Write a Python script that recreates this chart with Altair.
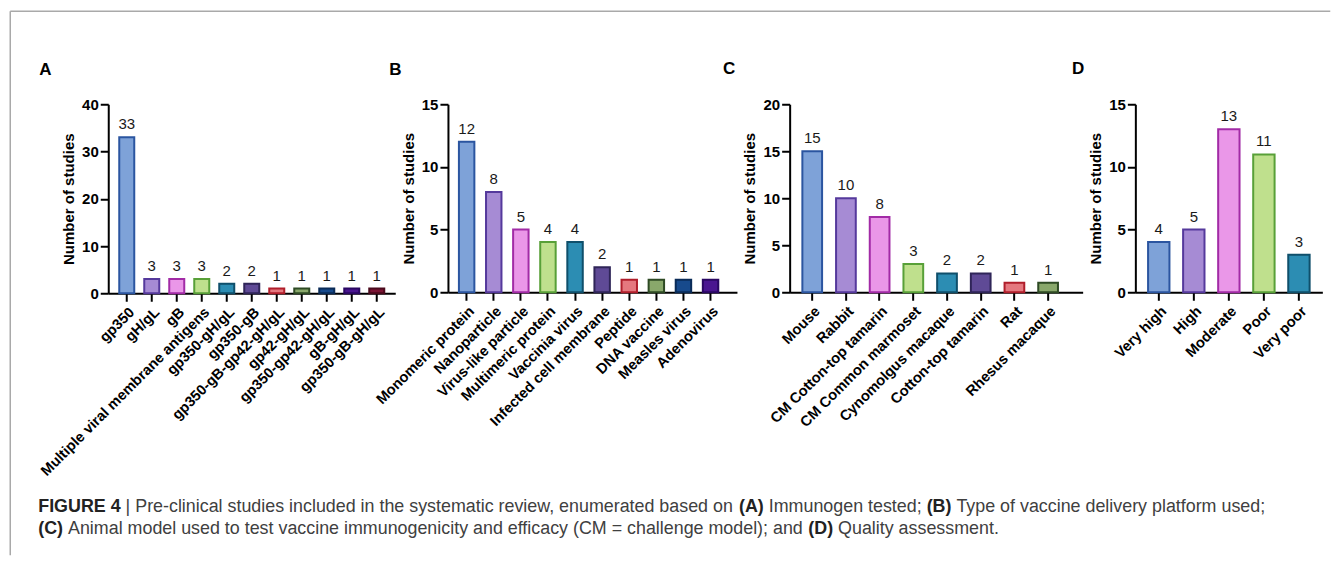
import altair as alt
import pandas as pd

FONT = "Liberation Sans"

# ---------------- data ----------------
a_cats = ["gp350", "gH/gL", "gB", "Multiple viral membrane antigens", "gp350-gH/gL",
          "gp350-gB", "gp350-gB-gp42-gH/gL", "gp42-gH/gL", "gp350-gp42-gH/gL",
          "gB-gH/gL", "gp350-gB-gH/gL"]
a_vals = [33, 3, 3, 3, 2, 2, 1, 1, 1, 1, 1]

b_cats = ["Monomeric protein", "Nanoparticle", "Virus-like particle", "Multimeric protein",
          "Vaccinia virus", "Infected cell membrane", "Peptide", "DNA vaccine",
          "Measles virus", "Adenovirus"]
b_vals = [12, 8, 5, 4, 4, 2, 1, 1, 1, 1]

c_cats = ["Mouse", "Rabbit", "CM Cotton-top tamarin", "CM Common marmoset",
          "Cynomolgus macaque", "Cotton-top tamarin", "Rat", "Rhesus macaque"]
c_vals = [15, 10, 8, 3, 2, 2, 1, 1]

d_cats = ["Very high", "High", "Moderate", "Poor", "Very poor"]
d_vals = [4, 5, 13, 11, 3]

fills = ["#7ea2d8", "#a68bd4", "#ea97e8", "#bfe08d", "#2c8db3", "#5f4a96",
         "#e5787f", "#89a86b", "#174a8c", "#4a1590", "#7b1535"]
strokes = ["#2b55a0", "#55399c", "#a22ba6", "#58a038", "#0f4f6b", "#2f2558",
           "#b01e2b", "#2e4a24", "#0a2b57", "#2a0762", "#4a0a1c"]

caption_line1 = [("FIGURE 4", True), (" | ", False),
                 ("Pre-clinical studies included in the systematic review, enumerated based on ", False),
                 ("(A)", True), (" Immunogen tested; ", False), ("(B)", True),
                 (" Type of vaccine delivery platform used;", False)]
caption_line2 = [("(C)", True),
                 (" Animal model used to test vaccine immunogenicity and efficacy (CM = challenge model); and ", False),
                 ("(D)", True), (" Quality assessment.", False)]

# Helvetica/Arial advance widths (per 1000 em) used to place caption segments
REG = {' ': 278, 'a': 556, 'b': 556, 'c': 500, 'd': 556, 'e': 556, 'f': 278, 'g': 556, 'h': 556,
       'i': 222, 'j': 222, 'k': 500, 'l': 222, 'm': 833, 'n': 556, 'o': 556, 'p': 556, 'q': 556,
       'r': 333, 's': 500, 't': 278, 'u': 556, 'v': 500, 'w': 722, 'x': 500, 'y': 500, 'z': 500,
       'P': 667, 'I': 278, 'T': 611, 'A': 667, 'C': 722, 'M': 833, 'Q': 778, 'D': 722,
       '-': 333, ',': 278, ';': 278, '(': 333, ')': 333, '=': 584, '|': 260, '.': 278}
BOLD = {' ': 278, 'F': 611, 'I': 278, 'G': 778, 'U': 722, 'R': 722, 'E': 667, '4': 556,
        '(': 333, ')': 333, 'A': 722, 'B': 722, 'C': 722, 'D': 722}


def em_width(s, bold):
    table = BOLD if bold else REG
    return sum(table.get(ch, 556) for ch in s) / 1000.0


# ---------------- layout (page pixels) ----------------
A_X0, PLOT_TOP = 108, 104
CAP_X0, CAP_X1 = 38, 1266
CAP_Y1, CAP_Y2 = 512, 534
cap_size = (CAP_X1 - CAP_X0) / sum(em_width(s, b) for s, b in caption_line1)


def txt(s, px, py, size, bold, color, align="left"):
    return alt.Chart(pd.DataFrame({"t": [s]})).mark_text(
        align=align, baseline="alphabetic", font=FONT, fontSize=size,
        fontWeight="bold" if bold else "normal", color=color
    ).encode(x=alt.value(px), y=alt.value(py), text="t:N")


def caption_layers(segments, page_y):
    layers = []
    x = CAP_X0
    for s, b in segments:
        lead = len(s) - len(s.lstrip(" "))
        xs = x + em_width(" " * lead, b) * cap_size
        layers.append(txt(s.strip(" "), xs - A_X0, page_y - PLOT_TOP, cap_size, b,
                          "#222222" if b else "#404040"))
        x += em_width(s, b) * cap_size
    return layers


def panel(cats, vals, ymax, ystep, width, height, pin, pout, align, letter, lx, ly, extra=None):
    n = len(cats)
    df = pd.DataFrame({"cat": cats, "val": vals})
    xenc = alt.X("cat:N", sort=cats,
                 scale=alt.Scale(paddingInner=pin, paddingOuter=pout, align=align),
                 axis=alt.Axis(title=None, labelAngle=-45, labelAlign="right",
                               labelBaseline="top", labelFontSize=14.6, labelPadding=3,
                               labelLimit=0, labelOverlap=False))
    yenc = alt.Y("val:Q", scale=alt.Scale(domain=[0, ymax], nice=False),
                 axis=alt.Axis(title="Number of studies",
                               values=list(range(0, ymax + 1, ystep)),
                               labelFontSize=15, labelPadding=2, titlePadding=5))
    bars = alt.Chart(df).mark_bar(strokeWidth=2).encode(
        x=xenc, y=yenc,
        fill=alt.Fill("cat:N", scale=alt.Scale(domain=cats, range=fills[:n]), legend=None),
        stroke=alt.Stroke("cat:N", scale=alt.Scale(domain=cats, range=strokes[:n]), legend=None),
    )
    labels = alt.Chart(df).mark_text(baseline="alphabetic", dy=-8, font=FONT,
                                     fontSize=15, color="#1a1a1a").encode(
        x=alt.X("cat:N", sort=cats), y=alt.Y("val:Q"), text="val:Q")
    layers = [bars, labels, txt(letter, lx, ly, 17, True, "#000000")]
    if extra:
        layers += extra
    return alt.layer(*layers).properties(width=width, height=height).resolve_scale(
        fill="independent", stroke="independent")


# decoration: frame lines and caption, placed relative to panel A
frame_df = pd.DataFrame({"a": [0]})
frame_v = alt.Chart(frame_df).mark_rule(color="#a9a9a9", strokeWidth=1.5).encode(
    x=alt.value(10 - A_X0), y=alt.value(11 - PLOT_TOP), y2=alt.value(555 - PLOT_TOP))
frame_h = alt.Chart(frame_df).mark_rule(color="#a9a9a9", strokeWidth=1.5).encode(
    x=alt.value(10 - A_X0), x2=alt.value(1330 - A_X0), y=alt.value(11 - PLOT_TOP))

extra = [frame_v, frame_h] + caption_layers(caption_line1, CAP_Y1) + caption_layers(caption_line2, CAP_Y2)

pA = panel(a_cats, a_vals, 40, 10, 287, 189, 0.4, 0.44, 0.5, "A", 39 - 108, 75 - PLOT_TOP, extra)
pB = panel(b_cats, b_vals, 15, 5, 289, 188, 0.43, 0.547, 0.37, "B", 389 - 447.7, 74.3 - PLOT_TOP)
pC = panel(c_cats, c_vals, 20, 5, 293, 188, 0.415, 0.555, 0.34, "C", 722.7 - 789.3, 74 - PLOT_TOP)
pD = panel(d_cats, d_vals, 15, 5, 187, 188, 0.39, 0.363, 0.5, "D", 1071.7 - 1135, 73.3 - PLOT_TOP)

chart = alt.hconcat(pA, pB, pC, pD, spacing=52.7, bounds="flush").resolve_scale(
    fill="independent", stroke="independent"
).properties(
    padding={"left": 1.25, "top": 2.25, "right": 0, "bottom": 0}
).configure_view(stroke=None).configure_axis(
    domainColor="#000000", domainWidth=2, tickColor="#000000", tickWidth=2, tickSize=8,
    labelFont=FONT, labelFontWeight="bold", labelColor="#000000",
    titleFont=FONT, titleFontWeight="bold", titleFontSize=15, titleColor="#000000",
    grid=False
)

chart.save("out.html", embed_options={"renderer": "svg", "actions": False})
